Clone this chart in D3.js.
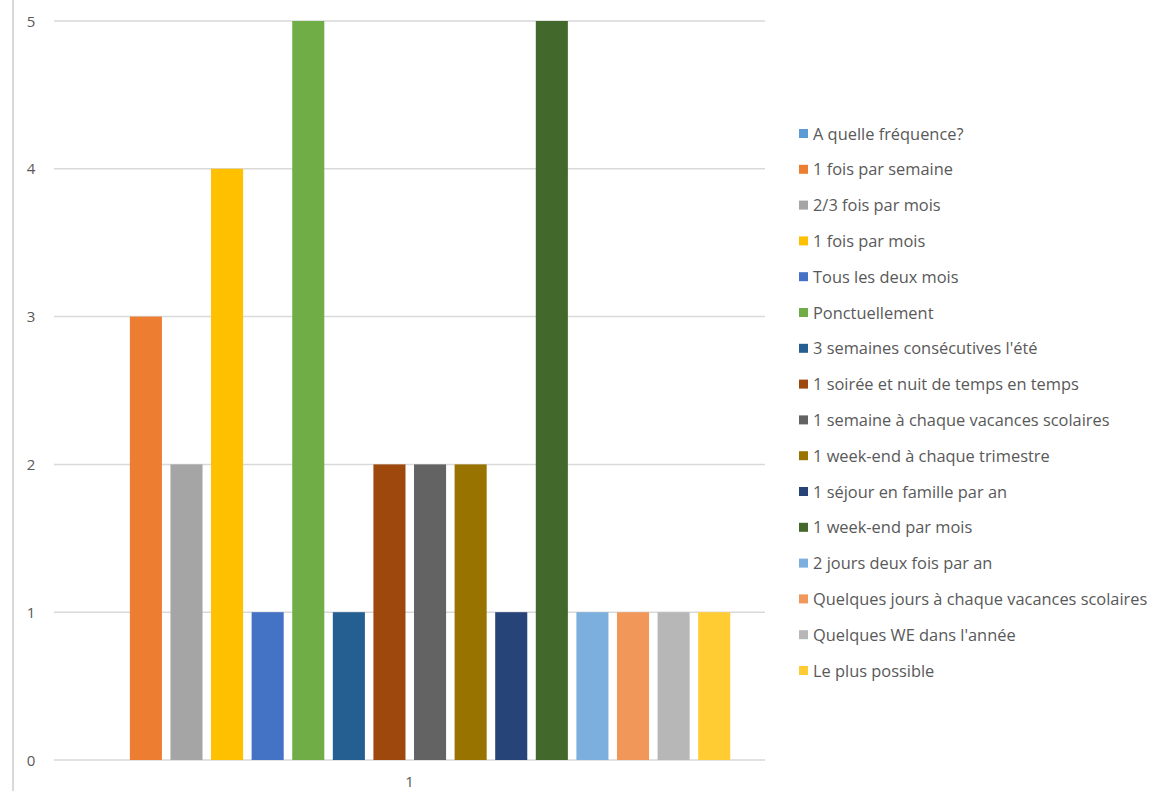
<!DOCTYPE html>
<html><head><meta charset="utf-8">
<script src="https://cdn.jsdelivr.net/npm/d3@7"></script>
<style>body{margin:0;background:#fff;} svg{display:block;}</style>
</head><body>
<svg id="c" width="1153" height="791"></svg>
<script>
const categories = ["1"];
const seriesNames = ["A quelle fréquence?","1 fois par semaine","2/3 fois par mois","1 fois par mois","Tous les deux mois","Ponctuellement","3 semaines consécutives l'été","1 soirée et nuit de temps en temps","1 semaine à chaque vacances scolaires","1 week-end à chaque trimestre","1 séjour en famille par an","1 week-end par mois","2 jours deux fois par an","Quelques jours à chaque vacances scolaires","Quelques WE dans l'année","Le plus possible"];
const seriesValues = [0,3,2,4,1,5,1,2,2,2,1,5,1,1,1,1];
const seriesColors = ["#5B9BD5","#ED7D31","#A5A5A5","#FFC000","#4472C4","#70AD47","#255E91","#9E480E","#636363","#997300","#264478","#43682B","#7CAFDD","#F1975A","#B7B7B7","#FFCD33"];
const yTicks = [0,1,2,3,4,5];

const svg = d3.select("#c");
const font = "'Open Sans', Lato, sans-serif";
const plotL = 54, plotR = 765, plotT = 21, plotB = 760;

const y = d3.scaleLinear().domain([0,5]).range([plotB, plotT]);
const x0 = d3.scaleBand().domain(categories).range([plotL, plotR]);
const x1 = d3.scaleBand().domain(seriesNames).range([85, 734.5]).paddingInner(0.21).paddingOuter(0.105);

// left border line
svg.append("line").attr("x1",13).attr("x2",13).attr("y1",0).attr("y2",791)
  .attr("stroke","#d9d9d9").attr("stroke-width",2);

// gridlines
svg.append("g").selectAll("line").data(yTicks).join("line")
  .attr("x1",plotL).attr("x2",plotR)
  .attr("y1",d=>y(d)).attr("y2",d=>y(d))
  .attr("stroke","#d9d9d9").attr("stroke-width",1.5);

// y tick labels
svg.append("g").selectAll("text").data(yTicks).join("text")
  .attr("x",31).attr("y",d=>y(d)+5.5)
  .attr("text-anchor","middle")
  .attr("font-family",font).attr("font-size",15).attr("fill","#595959")
  .text(d=>d);

// bars
const data = seriesNames.map((s,i)=>({name:s, value:seriesValues[i], color:seriesColors[i]}));
svg.append("g").selectAll("rect").data(data).join("rect")
  .attr("x",d=>x0("1") - plotL + x1(d.name))
  .attr("width",x1.bandwidth())
  .attr("y",d=>y(d.value))
  .attr("height",d=>y(0)-y(d.value))
  .attr("fill",d=>d.color);

// category label
svg.append("text").attr("x",x0("1")+x0.bandwidth()/2).attr("y",787)
  .attr("text-anchor","middle").attr("font-family",font).attr("font-size",15).attr("fill","#595959")
  .text(categories[0]);

// legend
const lg = svg.append("g").selectAll("g").data(data).join("g")
  .attr("transform",(d,i)=>`translate(799,${134 + i*35.8})`);
lg.append("rect").attr("x",0).attr("y",-5).attr("width",9).attr("height",9).attr("fill",d=>d.color);
lg.append("text").attr("x",14).attr("y",5.5).attr("font-family",font).attr("font-size",16.4).attr("fill","#595959")
  .text(d=>d.name);
</script>
</body></html>
